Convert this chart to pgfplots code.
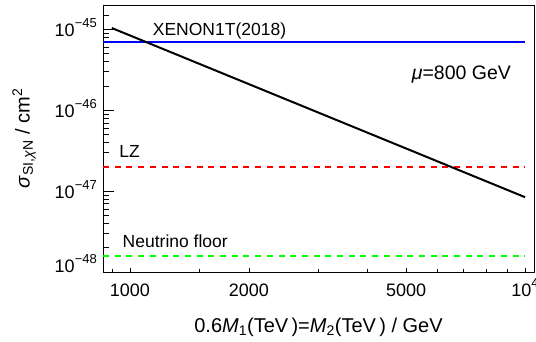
\documentclass[border=0pt]{standalone}
\usepackage{pgfplots}
\pgfplotsset{compat=1.18}
\usepackage{fontspec}
\setmainfont{Liberation Sans}
\newcommand{\tp}[1]{10\raisebox{0.5em}{\fontsize{13}{13}\selectfont #1}}
\begin{document}
\begin{tikzpicture}[font=\fontsize{18}{21}\selectfont]
\begin{axis}[name=ax, scale only axis, width=431pt, height=267pt,
  xmode=log, ymode=log, xmin=855, xmax=10540, ymin=1e-48, ymax=2e-45,
  axis line style={line width=0.8pt},
  tick pos=left, tick align=inside,
  major tick length=11pt, minor tick length=6pt,
  x tick style={/pgfplots/major tick length=4pt,/pgfplots/minor tick length=3pt},
  every tick/.style={black, line width=0.6pt},
  xtick={1000,2000,5000,10000}, xticklabels={1000,2000,5000,\tp{4}},
  minor xtick={900,1500,3000,4000,6000,7000,8000,9000},
  ytick={1e-48,1e-47,1e-46,1e-45},
  yticklabels={\raisebox{7pt}{\tp{−48}},\tp{−47},\tp{−46},\tp{−45}},
  minor ytick={2e-48,3e-48,4e-48,5e-48,6e-48,7e-48,8e-48,9e-48,
               2e-47,3e-47,4e-47,5e-47,6e-47,7e-47,8e-47,9e-47,
               2e-46,3e-46,4e-46,5e-46,6e-46,7e-46,8e-46,9e-46,
               1.5e-45},
  xticklabel style={anchor=base, inner sep=0pt, yshift=-24pt},
  yticklabel style={anchor=base east, inner sep=0pt, xshift=-6pt, yshift=-7.3pt},
  xlabel={0.6\textit{M}\textsubscript{1}(TeV\,)=\textit{M}\textsubscript{2}(TeV\,) / GeV},
  ylabel={\textit{σ}\textsubscript{SI,\textit{χ}N} / cm\textsuperscript{2}},
  xlabel style={at={(axis description cs:0.5,-0.2247)}, anchor=base, inner sep=0pt, font=\fontsize{20}{23}\selectfont},
  ylabel style={at={(axis description cs:-0.1833,0.5)}, anchor=center, rotate=0, inner sep=0pt, font=\fontsize{20}{23}\selectfont},
]
\addplot[blue, line width=2.5pt] coordinates {(800,7e-46) (10000,7e-46)};
\addplot[red, line width=2.5pt, dash pattern=on 6pt off 5.7pt] coordinates {(855,2e-47) (10000,2e-47)};
\addplot[green, line width=2.5pt, dash pattern=on 6pt off 5.7pt] coordinates {(855,1.58e-48) (10000,1.58e-48)};
\addplot[black, line width=2pt] coordinates {(900,1.04e-45) (10000,8.43e-48)};
\node[anchor=base west, inner sep=0pt, font=\fontsize{17.5}{20}\selectfont] at (axis cs:1142,8.34e-46) {XENON1T(2018)};
\node[anchor=base west, inner sep=0pt, font=\fontsize{19.5}{22}\selectfont] at (axis cs:5166,2.37e-46) {\textit{μ}=800 GeV};
\node[anchor=base west, inner sep=0pt, font=\fontsize{17.5}{20}\selectfont] at (axis cs:940,2.63e-47) {LZ};
\node[anchor=base west, inner sep=0pt, font=\fontsize{17.5}{20}\selectfont] at (axis cs:958,2.04e-48) {Neutrino floor};
\end{axis}
\pgfresetboundingbox
\path ([xshift=-103pt,yshift=-70pt]ax.south west) rectangle ([xshift=2pt,yshift=5pt]ax.north east);
\end{tikzpicture}
\end{document}
